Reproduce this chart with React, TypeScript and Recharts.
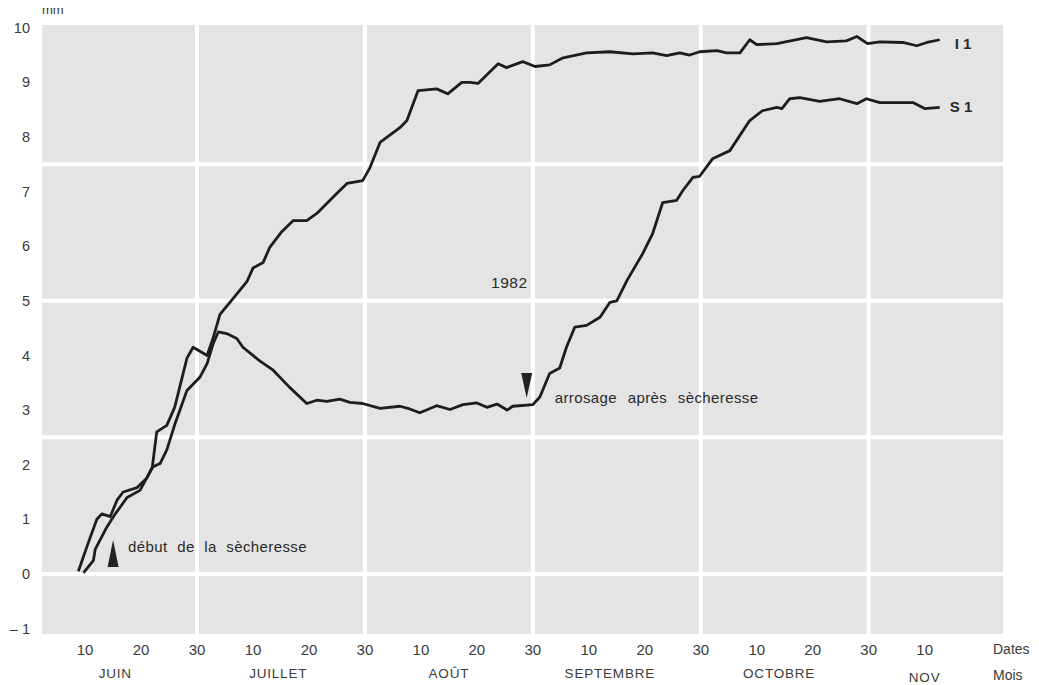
import {
  LineChart,
  Line,
  XAxis,
  YAxis,
  CartesianGrid,
  ReferenceDot,
} from "recharts";

// day index: every month counted as 30 days, June 10 = 10, July 10 = 40 ...
const i1Days = [
  8.8, 10.5, 12.1, 13, 14.5, 15.7, 16.8, 19.3, 21, 22, 22.8, 24.6, 26, 28.2, 29.3, 31.8, 32.9, 34.1,
  36.5, 38.9, 40, 41.8, 43, 45, 47.2, 49.6, 51.4, 55, 56.8, 59.6, 60.9, 62.7, 66.25, 67.5, 69.5, 72.8,
  74.8, 77.3, 78.75, 80.2, 83.8, 85.3, 88.2, 90.4, 93, 95.4, 99.6, 103.75, 107.9, 111.4, 113.9, 116.25,
  118, 119.8, 122.9, 124.6, 127, 128.75, 130, 133.6, 138.9, 142.5, 146, 147.9, 149.8, 152, 156.1,
  158.6, 160.4, 162.7,
];
const i1Values = [
  0.05, 0.55, 1.0, 1.1, 1.05, 1.35, 1.5, 1.58, 1.75, 1.95, 2.6, 2.72, 3.05, 3.95, 4.15, 4.0, 4.33, 4.75,
  5.05, 5.35, 5.6, 5.7, 5.98, 6.25, 6.47, 6.47, 6.6, 6.97, 7.15, 7.2, 7.44, 7.9, 8.17, 8.3, 8.85, 8.88,
  8.79, 9.0, 9.0, 8.98, 9.34, 9.27, 9.38, 9.29, 9.32, 9.45, 9.54, 9.56, 9.52, 9.54, 9.49, 9.54,
  9.5, 9.56, 9.58, 9.54, 9.54, 9.78, 9.69, 9.71, 9.82, 9.74, 9.76, 9.84, 9.71, 9.74, 9.73,
  9.67, 9.73, 9.78,
];

const s1Days = [
  9.7, 11.5, 11.8, 13.9, 15.4, 17.5, 19.8, 22.1, 23.4, 24.6, 26.1, 28.2, 30.5, 31.8, 32.9, 33.8, 35.3,
  37.1, 38.2, 41.2, 43.6, 46.5, 49.6, 51.4, 53.2, 55.5, 57.3, 59.6, 62.7, 66.25, 68, 69.8, 71, 72.8,
  75.2, 77.5, 80, 81.8, 83.6, 85.4, 86.4, 90, 91.25, 93, 94.8, 96, 97.5, 99.6, 102, 103.75, 105, 106.8,
  109.6, 111.4, 113.2, 115.7, 116.8, 118.6, 119.8, 122.1, 125.2, 128.75, 131, 133.6, 134.5, 135.9,
  137.7, 141.25, 144.8, 147.9, 149.6, 152, 157.9, 160, 162.7,
];
const s1Values = [
  0.02, 0.25, 0.45, 0.86, 1.1, 1.4, 1.53, 1.96, 2.02, 2.27, 2.76, 3.36, 3.6, 3.85, 4.22, 4.43, 4.4,
  4.31, 4.15, 3.9, 3.73, 3.42, 3.12, 3.18, 3.16, 3.2, 3.14, 3.12, 3.03, 3.07, 3.02, 2.95, 3.0, 3.08,
  3.01, 3.1, 3.13, 3.05, 3.11, 3.0, 3.07, 3.1, 3.24, 3.67, 3.77, 4.15, 4.52, 4.55, 4.7, 4.97, 5.0, 5.37,
  5.86, 6.23, 6.8, 6.84, 7.02, 7.26, 7.28, 7.6, 7.75, 8.3, 8.48, 8.54, 8.52, 8.7,
  8.72, 8.65, 8.7, 8.61, 8.7, 8.63, 8.63, 8.52, 8.54,
];

const dayTicks = [10, 20, 30, 40, 50, 60, 70, 80, 90, 100, 110, 120, 130, 140, 150, 160];
const dayLabels = ["10", "20", "30", "10", "20", "30", "10", "20", "30", "10", "20", "30", "10", "20", "30", "10"];
const monthTicks = [15.4, 44.5, 75, 103.75, 134, 160];
const monthLabels = ["JUIN", "JUILLET", "AOÛT", "SEPTEMBRE", "OCTOBRE", "NOV"];
const mmTicks = [-1, 0, 1, 2, 3, 4, 5, 6, 7, 8, 9, 10];
const hGrid = [0, 2.5, 5, 7.5];
const vGrid = [30, 60, 90, 120, 150];

const i1Data = i1Days.map((d, i) => ({ d, v: i1Values[i] }));
const s1Data = s1Days.map((d, i) => ({ d, v: s1Values[i] }));

const FONT = '"Liberation Sans", Arial, Helvetica, sans-serif';
const INK = "#1d1d1d";
const TXT = "#3a3a3a";

const MonthTick = (props: any) => {
  const { x, y, payload } = props;
  const idx = monthTicks.indexOf(payload.value);
  const label = monthLabels[idx] ?? "";
  return (
    <text
      x={x}
      y={y + (label === "NOV" ? 22 : 18)}
      textAnchor="middle"
      fontSize={13.5}
      letterSpacing={0.8}
      fill={TXT}
      fontFamily={FONT}
    >
      {label}
    </text>
  );
};

const upArrow = (text: string) => (p: any) => (
  <g>
    <path d={`M${p.cx},${p.cy} L${p.cx + 5.5},${p.cy + 27} L${p.cx - 5.5},${p.cy + 27} Z`} fill="#222" />
    <text x={p.cx + 15} y={p.cy + 12} fontSize={15} letterSpacing={0.4} wordSpacing={5} fill="#2a2a2a" fontFamily={FONT}>
      {text}
    </text>
  </g>
);

const downArrow = (text: string) => (p: any) => (
  <g>
    <path d={`M${p.cx},${p.cy} L${p.cx + 5.5},${p.cy - 25} L${p.cx - 5.5},${p.cy - 25} Z`} fill="#222" />
    <text x={p.cx + 28} y={p.cy + 5} fontSize={15} letterSpacing={0.4} wordSpacing={6} fill="#2a2a2a" fontFamily={FONT}>
      {text}
    </text>
  </g>
);

const plainText = (text: string, dx: number, dy: number, bold = false) => (p: any) => (
  <text
    x={p.cx + dx}
    y={p.cy + dy}
    fontSize={bold ? 15 : 15.5}
    letterSpacing={bold ? 0 : 0.6}
    fontWeight={bold ? 700 : 400}
    fill="#2a2a2a"
    fontFamily={FONT}
  >
    {text}
  </text>
);

export default function App() {
  return (
    <div style={{ position: "relative", width: 1031, height: 677, fontFamily: FONT, color: TXT }}>
      <LineChart width={1031} height={677} margin={{ top: 17, right: 36, left: 0, bottom: 3 }}>
        <CartesianGrid
          fill="#e4e4e4"
          fillOpacity={1}
          stroke="#ffffff"
          strokeWidth={4}
          horizontalValues={hGrid}
          verticalValues={vGrid}
        />
        <XAxis
          dataKey="d"
          type="number"
          domain={[2.3, 174]}
          allowDataOverflow
          ticks={dayTicks}
          tickFormatter={(v: number) => dayLabels[dayTicks.indexOf(v)] ?? ""}
          axisLine={false}
          tickLine={false}
          tickSize={0}
          tickMargin={10}
          height={24}
          interval={0}
          tick={{ fontSize: 15, fill: TXT, fontFamily: FONT }}
        />
        <XAxis
          xAxisId="m"
          dataKey="d"
          type="number"
          domain={[2.3, 174]}
          allowDataOverflow
          ticks={monthTicks}
          axisLine={false}
          tickLine={false}
          tickSize={0}
          height={24}
          interval={0}
          tick={<MonthTick />}
        />
        <YAxis
          type="number"
          domain={[-1.1, 10.05]}
          allowDataOverflow
          ticks={mmTicks}
          interval={0}
          tickFormatter={(v: number) => (v < 0 ? "– 1" : String(v))}
          axisLine={false}
          tickLine={false}
          tickSize={0}
          tickMargin={12}
          width={34}
          tick={{ fontSize: 14.5, fill: TXT, fontFamily: FONT }}
        />
        <Line
          data={i1Data}
          dataKey="v"
          type="linear"
          stroke={INK}
          strokeWidth={2.8}
          strokeLinejoin="round"
          dot={false}
          isAnimationActive={false}
        />
        <Line
          data={s1Data}
          dataKey="v"
          type="linear"
          stroke={INK}
          strokeWidth={2.8}
          strokeLinejoin="round"
          dot={false}
          isAnimationActive={false}
        />
        <ReferenceDot x={15} y={0.62} r={0} shape={upArrow("début de la sècheresse")} />
        <ReferenceDot x={88.9} y={3.22} r={0} shape={downArrow("arrosage après sècheresse")} />
        <ReferenceDot x={85.9} y={5.32} r={0} shape={plainText("1982", -19, 5)} />
        <ReferenceDot x={162.7} y={9.78} r={0} shape={plainText("I 1", 15, 9, true)} />
        <ReferenceDot x={162.7} y={8.54} r={0} shape={plainText("S 1", 10, 5, true)} />
      </LineChart>
      <span style={{ position: "absolute", left: 34, top: -6, fontSize: 13, lineHeight: "16px", zIndex: 2 }}>mm</span>
      <span style={{ position: "absolute", left: 985, top: 633, fontSize: 14, lineHeight: "17px", zIndex: 2 }}>Dates</span>
      <span style={{ position: "absolute", left: 985, top: 659, fontSize: 14, lineHeight: "17px", zIndex: 2 }}>Mois</span>
    </div>
  );
}
